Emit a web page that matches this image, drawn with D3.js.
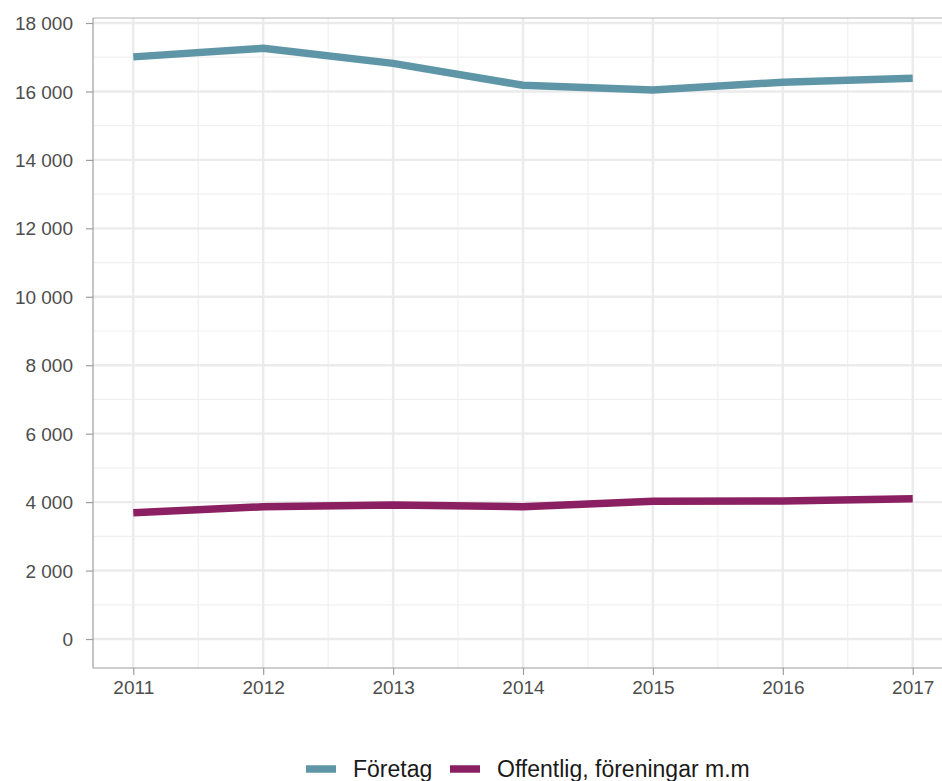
<!DOCTYPE html>
<html>
<head>
<meta charset="utf-8">
<script src="https://cdn.jsdelivr.net/npm/d3@7"></script>
<style>
  body { margin: 0; background: #fff; }
  svg { display: block; font-family: "Liberation Sans", Arial, sans-serif; }
</style>
</head>
<body>
<div id="chart"></div>
<script>
// data
var years = [2011, 2012, 2013, 2014, 2015, 2016, 2017];
var foretag = [17010, 17260, 16820, 16180, 16040, 16270, 16385];
var offentlig = [3690, 3865, 3915, 3865, 4025, 4035, 4095];
var seriesNames = ["Företag", "Offentlig, föreningar m.m"];
var seriesColors = ["#5f96a7", "#8a2061"];
var yTicks = [0, 2000, 4000, 6000, 8000, 10000, 12000, 14000, 16000, 18000];

var width = 942, height = 781;
var margin = {top: 18, left: 93, bottom: 668};

var svg = d3.select("#chart")
  .append("svg")
    .attr("width", width)
    .attr("height", height);

var x = d3.scaleLinear()
  .domain([2010.69, 2017.31])
  .range([margin.left, 953]);

var y = d3.scaleLinear()
  .domain([-847, 18146])
  .range([margin.bottom, margin.top]);

var fmt = d3.formatLocale({decimal: ",", thousands: "\u00a0", grouping: [3], currency: ["", ""]}).format(",d");

// minor grid
var grid = svg.append("g");
var minorY = yTicks.slice(0, -1).map(function(d) { return d + 1000; });
grid.selectAll(".minor-y")
  .data(minorY)
  .enter().append("line")
    .attr("x1", margin.left).attr("x2", width)
    .attr("y1", function(d) { return y(d); })
    .attr("y2", function(d) { return y(d); })
    .attr("stroke", "#f0f0f0").attr("stroke-width", 1.2);
grid.selectAll(".minor-x")
  .data(years.slice(0, -1).map(function(d) { return d + 0.5; }))
  .enter().append("line")
    .attr("y1", margin.top).attr("y2", margin.bottom)
    .attr("x1", function(d) { return x(d); })
    .attr("x2", function(d) { return x(d); })
    .attr("stroke", "#f0f0f0").attr("stroke-width", 1.2);

// major grid
grid.selectAll(".major-y")
  .data(yTicks)
  .enter().append("line")
    .attr("x1", margin.left).attr("x2", width)
    .attr("y1", function(d) { return y(d); })
    .attr("y2", function(d) { return y(d); })
    .attr("stroke", "#ebebeb").attr("stroke-width", 2.4);
grid.selectAll(".major-x")
  .data(years)
  .enter().append("line")
    .attr("y1", margin.top).attr("y2", margin.bottom)
    .attr("x1", function(d) { return x(d); })
    .attr("x2", function(d) { return x(d); })
    .attr("stroke", "#ebebeb").attr("stroke-width", 2.4);

// top border
svg.append("line")
  .attr("x1", margin.left).attr("x2", width)
  .attr("y1", margin.top).attr("y2", margin.top)
  .attr("stroke", "#b3b3b3").attr("stroke-width", 1.2);

// axes
var yAxis = svg.append("g")
  .attr("transform", "translate(" + margin.left + ",0)")
  .call(d3.axisLeft(y).tickValues(yTicks).tickFormat(fmt).tickSize(7).tickPadding(13));
var xAxis = svg.append("g")
  .attr("transform", "translate(0," + margin.bottom + ")")
  .call(d3.axisBottom(x).tickValues(years).tickFormat(d3.format("d")).tickSize(7).tickPadding(6));

[yAxis, xAxis].forEach(function(ax) {
  ax.select(".domain").attr("stroke", "#9e9e9e").attr("stroke-width", 1.2);
  ax.selectAll(".tick line").attr("stroke", "#9e9e9e").attr("stroke-width", 1.2);
  ax.selectAll(".tick text")
    .attr("fill", "#4d4d4d")
    .style("font-size", "19px")
    .style("font-family", "'Liberation Sans', Arial, sans-serif");
});
yAxis.selectAll(".tick text").attr("dy", "0.35em");
yAxis.select(".domain").attr("d", "M0," + margin.top + "V" + margin.bottom);
xAxis.select(".domain").attr("d", "M" + margin.left + ",0H" + width);

// lines
var line = d3.line()
  .x(function(d, i) { return x(years[i]); })
  .y(function(d) { return y(d); });

[foretag, offentlig].forEach(function(s, i) {
  svg.append("path")
    .datum(s)
    .attr("d", line)
    .attr("fill", "none")
    .attr("stroke", seriesColors[i])
    .attr("stroke-width", 7.5)
    .attr("stroke-linejoin", "round");
});

// legend
var legendX = [306, 450];
var legend = svg.append("g");
seriesNames.forEach(function(name, i) {
  legend.append("line")
    .attr("x1", legendX[i]).attr("x2", legendX[i] + 30)
    .attr("y1", 769).attr("y2", 769)
    .attr("stroke", seriesColors[i])
    .attr("stroke-width", 7.5);
  legend.append("text")
    .attr("x", legendX[i] + 47)
    .attr("y", 777)
    .attr("fill", "#1a1a1a")
    .style("font-size", "23px")
    .text(name);
});
</script>
</body>
</html>
